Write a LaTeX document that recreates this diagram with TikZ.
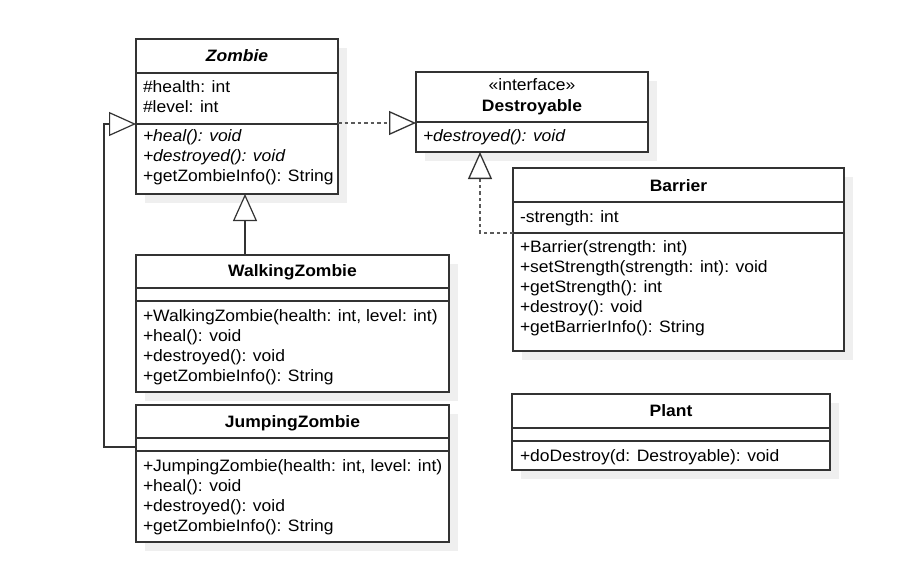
\documentclass[tikz,border=0pt]{standalone}
\usepackage{fontspec}
\setmainfont{Liberation Sans}[FakeStretch=1.06]
\usetikzlibrary{arrows.meta}
\definecolor{ln}{HTML}{333333}
\definecolor{shd}{HTML}{EFEFEF}
\definecolor{dsh}{HTML}{5A5A5A}
\begin{document}
\begin{tikzpicture}[x=1pt,y=-1pt,
  box/.style={draw=ln, line width=1.2pt, fill=white, inner sep=0pt, outer sep=0pt, anchor=north west},
  txt/.style={anchor=base west, inner sep=0pt, outer sep=0pt, font=\fontsize{16.5}{20}\selectfont},
  ttl/.style={anchor=base, inner sep=0pt, outer sep=0pt, font=\fontsize{16.5}{20}\selectfont\bfseries},
  div/.style={draw=ln, line width=1.2pt},
  inh/.style={draw=ln, line width=1.2pt, -{Triangle[length=27pt,width=24pt,fill=white]}},
  real/.style={draw=dsh, line width=1.3pt, dash pattern=on 3.5pt off 3pt, -{Triangle[length=27pt,width=24pt,fill=white,color=ln]}}
]
\useasboundingbox (0,0) rectangle (901,572);
% shadows
\fill[shd] (145,48) rectangle +(202,155);
\fill[shd] (425,81) rectangle +(232,80);
\fill[shd] (522,177) rectangle +(331,183);
\fill[shd] (145,264) rectangle +(313,137);
\fill[shd] (145,414) rectangle +(313,137);
\fill[shd] (521,403) rectangle +(318,76);
% boxes
\node[box, minimum width=202pt, minimum height=155pt] (zombie) at (136,39) {};
\node[box, minimum width=232pt, minimum height=80pt] (destr) at (416,72) {};
\node[box, minimum width=331pt, minimum height=183pt] (barrier) at (513,168) {};
\node[box, minimum width=313pt, minimum height=137pt] (wz) at (136,255) {};
\node[box, minimum width=313pt, minimum height=137pt] (jz) at (136,405) {};
\node[box, minimum width=318pt, minimum height=76pt] (plant) at (512,394) {};
% dividers
\draw[div] (136,73) -- (338,73);
\draw[div] (136,124) -- (338,124);
\draw[div] (416,122) -- (648,122);
\draw[div] (513,202) -- (844,202);
\draw[div] (513,233) -- (844,233);
\draw[div] (136,288) -- (449,288);
\draw[div] (136,301) -- (449,301);
\draw[div] (136,438) -- (449,438);
\draw[div] (136,451) -- (449,451);
\draw[div] (512,428) -- (830,428);
\draw[div] (512,441) -- (830,441);
% Zombie
\node[ttl] (zt) at (237,62) {\itshape Zombie};
\node[txt] (z1) at (143,93) {\#health: int};
\node[txt] (z2) at (143,113) {\#level: int};
\node[txt] (z3) at (143,142) {\itshape +heal(): void};
\node[txt] (z4) at (143,162) {\itshape +destroyed(): void};
\node[txt] (z5) at (143,182) {+getZombieInfo(): String};
% Destroyable
\node[anchor=base, inner sep=0pt, font=\fontsize{16.5}{20}\selectfont] (dt0) at (532,91) {«interface»};
\node[ttl] (dt) at (532,112) {Destroyable};
\node[txt] (d1) at (423,142) {\itshape +destroyed(): void};
% Barrier
\node[ttl] (bt) at (678.5,191) {Barrier};
\node[txt] (b1) at (520,222) {-strength: int};
\node[txt] (b2) at (520,252.5) {+Barrier(strength: int)};
\node[txt] (b3) at (520,272.5) {+setStrength(strength: int): void};
\node[txt] (b4) at (520,292.5) {+getStrength(): int};
\node[txt] (b5) at (520,312.5) {+destroy(): void};
\node[txt] (b6) at (520,332.5) {+getBarrierInfo(): String};
% WalkingZombie
\node[ttl] (wt) at (292.5,276.5) {WalkingZombie};
\node[txt] (w1) at (143,321.5) {+WalkingZombie(health: int, level: int)};
\node[txt] (w2) at (143,341) {+heal(): void};
\node[txt] (w3) at (143,361) {+destroyed(): void};
\node[txt] (w4) at (143,381) {+getZombieInfo(): String};
% JumpingZombie
\node[ttl] (jt) at (292.5,427) {JumpingZombie};
\node[txt] (j1) at (143,471) {+JumpingZombie(health: int, level: int)};
\node[txt] (j2) at (143,491) {+heal(): void};
\node[txt] (j3) at (143,511) {+destroyed(): void};
\node[txt] (j4) at (143,531) {+getZombieInfo(): String};
% Plant
\node[ttl] (pt) at (671,416.5) {Plant};
\node[txt] (p1) at (520,461) {+doDestroy(d: Destroyable): void};
% connectors
\coordinate (wzup) at (245,255);
\draw[inh] (wzup) -- (wzup |- zombie.south);
\coordinate (jzl) at (104,447);
\coordinate (zl) at (104,124);
\draw[inh] (jz.west |- jzl) -- (jzl) -- (zl) -- (zombie.west |- zl);
\coordinate (rl) at (0,123);
\draw[real] (zombie.east |- rl) -- (destr.west |- rl);
\coordinate (bk) at (480,233);
\draw[real] (barrier.west |- bk) -- (bk) -- (bk |- destr.south);
\end{tikzpicture}
\end{document}
